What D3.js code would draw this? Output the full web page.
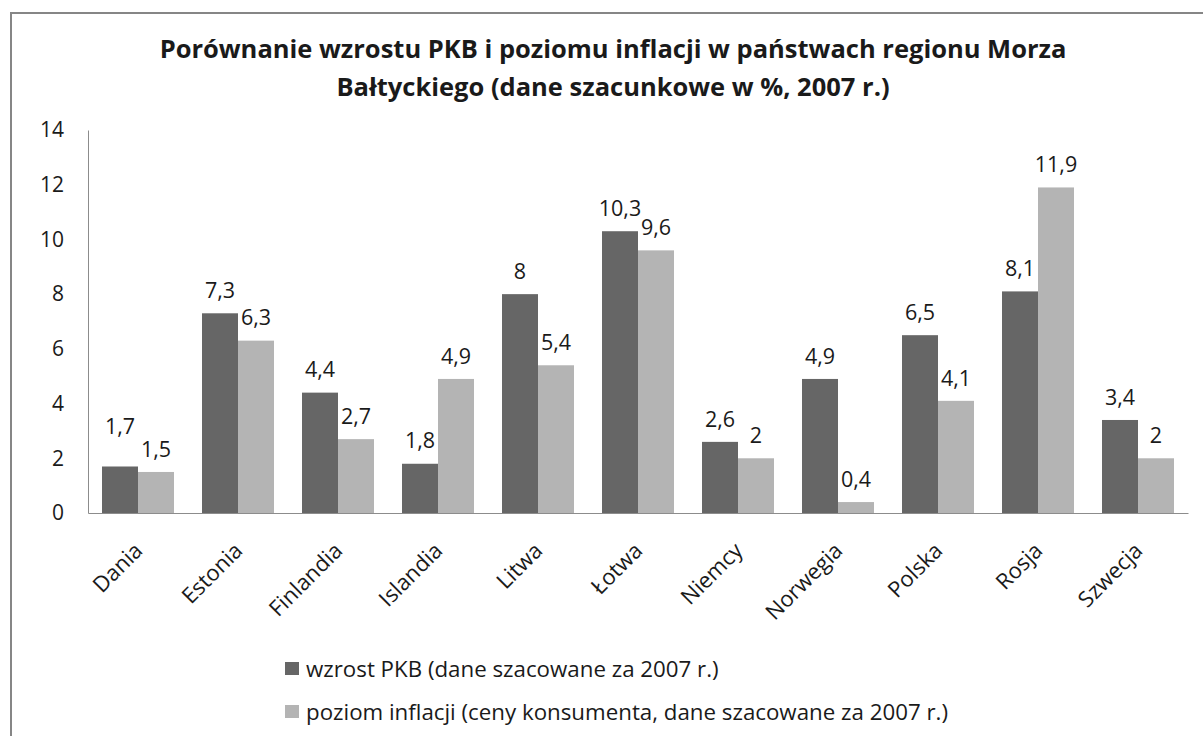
<!DOCTYPE html>
<html>
<head>
<meta charset="utf-8">
<script src="https://cdn.jsdelivr.net/npm/d3@7"></script>
<style>
  body { margin: 0; background: #fff; }
  svg text { font-family: "Open Sans", sans-serif; fill: #1a1a1a; }
</style>
</head>
<body>
<svg id="chart"></svg>
<script>
let svgWidth = 1203, svgHeight = 736

// dane z wykresu
let countries = ['Dania', 'Estonia', 'Finlandia', 'Islandia', 'Litwa', 'Łotwa', 'Niemcy', 'Norwegia', 'Polska', 'Rosja', 'Szwecja']
let pkb = [1.7, 7.3, 4.4, 1.8, 8, 10.3, 2.6, 4.9, 6.5, 8.1, 3.4]
let inflacja = [1.5, 6.3, 2.7, 4.9, 5.4, 9.6, 2, 0.4, 4.1, 11.9, 2]
let seriesNames = ['wzrost PKB (dane szacowane za 2007 r.)', 'poziom inflacji (ceny konsumenta, dane szacowane za 2007 r.)']
let yTicks = [0, 2, 4, 6, 8, 10, 12, 14]
let titleLines = ['Porównanie wzrostu PKB i poziomu inflacji w państwach regionu Morza', 'Bałtyckiego (dane szacunkowe w %, 2007 r.)']

let colors = ['#666666', '#b4b4b4']
let margin = {left: 88, right: 15, top: 130, bottom: 223}

let svg = d3.select('#chart').attr('width', svgWidth).attr('height', svgHeight)

// ramka wykresu
svg.append('rect')
  .attr('x', 11).attr('y', 13).attr('width', 1300).attr('height', 800)
  .attr('fill', 'none').attr('stroke', '#868686').attr('stroke-width', 2)

// tytuł
svg.append('g').selectAll('text').data(titleLines).enter().append('text')
  .attr('x', 613)
  .attr('y', (d, i) => 58 + i * 38)
  .attr('text-anchor', 'middle')
  .style('font-size', '25.5px')
  .style('font-weight', 'bold')
  .text(d => d)

let x0 = d3.scaleBand().domain(countries)
  .range([margin.left, svgWidth - margin.right])
  .paddingInner(0.28).paddingOuter(0.14)
let x1 = d3.scaleBand().domain([0, 1]).range([0, x0.bandwidth()])
let y = d3.scaleLinear().domain([0, 14]).range([svgHeight - margin.bottom, margin.top])

let rows = countries.map((c, i) => ({country: c, values: [pkb[i], inflacja[i]]}))

let g = svg.append('g')

// słupki
let groups = g.selectAll('g.grp').data(rows).enter().append('g')
  .attr('class', 'grp')
  .attr('transform', d => `translate(${x0(d.country)},0)`)

groups.selectAll('rect').data(d => d.values.map((v, s) => ({v, s})))
  .enter().append('rect')
  .attr('x', d => x1(d.s))
  .attr('width', x1.bandwidth())
  .attr('y', d => y(d.v))
  .attr('height', d => y(0) - y(d.v))
  .attr('fill', d => colors[d.s])

// etykiety wartości; gdy dwie etykiety by na siebie nachodziły, pierwsza idzie wyżej
groups.each(function(d) {
  let ys = d.values.map(v => y(v) - 23)
  if (Math.abs(ys[0] - ys[1]) < 10) ys[0] = Math.min(ys[0], ys[1]) - 17
  d3.select(this).selectAll('text.val').data(d.values).enter().append('text')
    .attr('class', 'val')
    .attr('x', (v, s) => x1(s) + x1.bandwidth() / 2)
    .attr('y', (v, s) => ys[s])
    .attr('dy', '0.36em')
    .attr('text-anchor', 'middle')
    .style('font-size', '21.5px')
    .text(v => String(v).replace('.', ','))
})

// oś Y
let yAxis = g.append('g')
  .attr('transform', `translate(${margin.left},0)`)
  .call(d3.axisLeft(y).tickValues(yTicks).tickSize(0).tickPadding(24).tickFormat(d => d))
yAxis.select('.domain').attr('stroke', '#8c8c8c')
yAxis.selectAll('text').style('font-size', '21px').style('font-family', '"Open Sans", sans-serif').attr('fill', '#1a1a1a')

// oś X
let xAxis = g.append('g')
  .attr('transform', `translate(0,${y(0)})`)
  .call(d3.axisBottom(x0).tickSize(0).tickPadding(0))
xAxis.select('.domain').attr('stroke', '#8c8c8c')
xAxis.selectAll('text')
  .style('font-size', '22px').style('font-family', '"Open Sans", sans-serif').attr('fill', '#1a1a1a')
  .attr('text-anchor', 'end')
  .attr('dy', 0)
  .attr('y', 0)
  .attr('transform', 'translate(6,39) rotate(-45)')

// legenda
let legend = svg.append('g').selectAll('g').data(seriesNames).enter().append('g')
  .attr('transform', (d, i) => `translate(285,${669 + i * 43})`)
legend.append('rect')
  .attr('x', 0).attr('y', -7).attr('width', 14).attr('height', 13)
  .attr('fill', (d, i) => colors[i])
legend.append('text')
  .attr('x', 21).attr('dy', '0.36em')
  .style('font-size', '22.3px')
  .text(d => d)
</script>
</body>
</html>
